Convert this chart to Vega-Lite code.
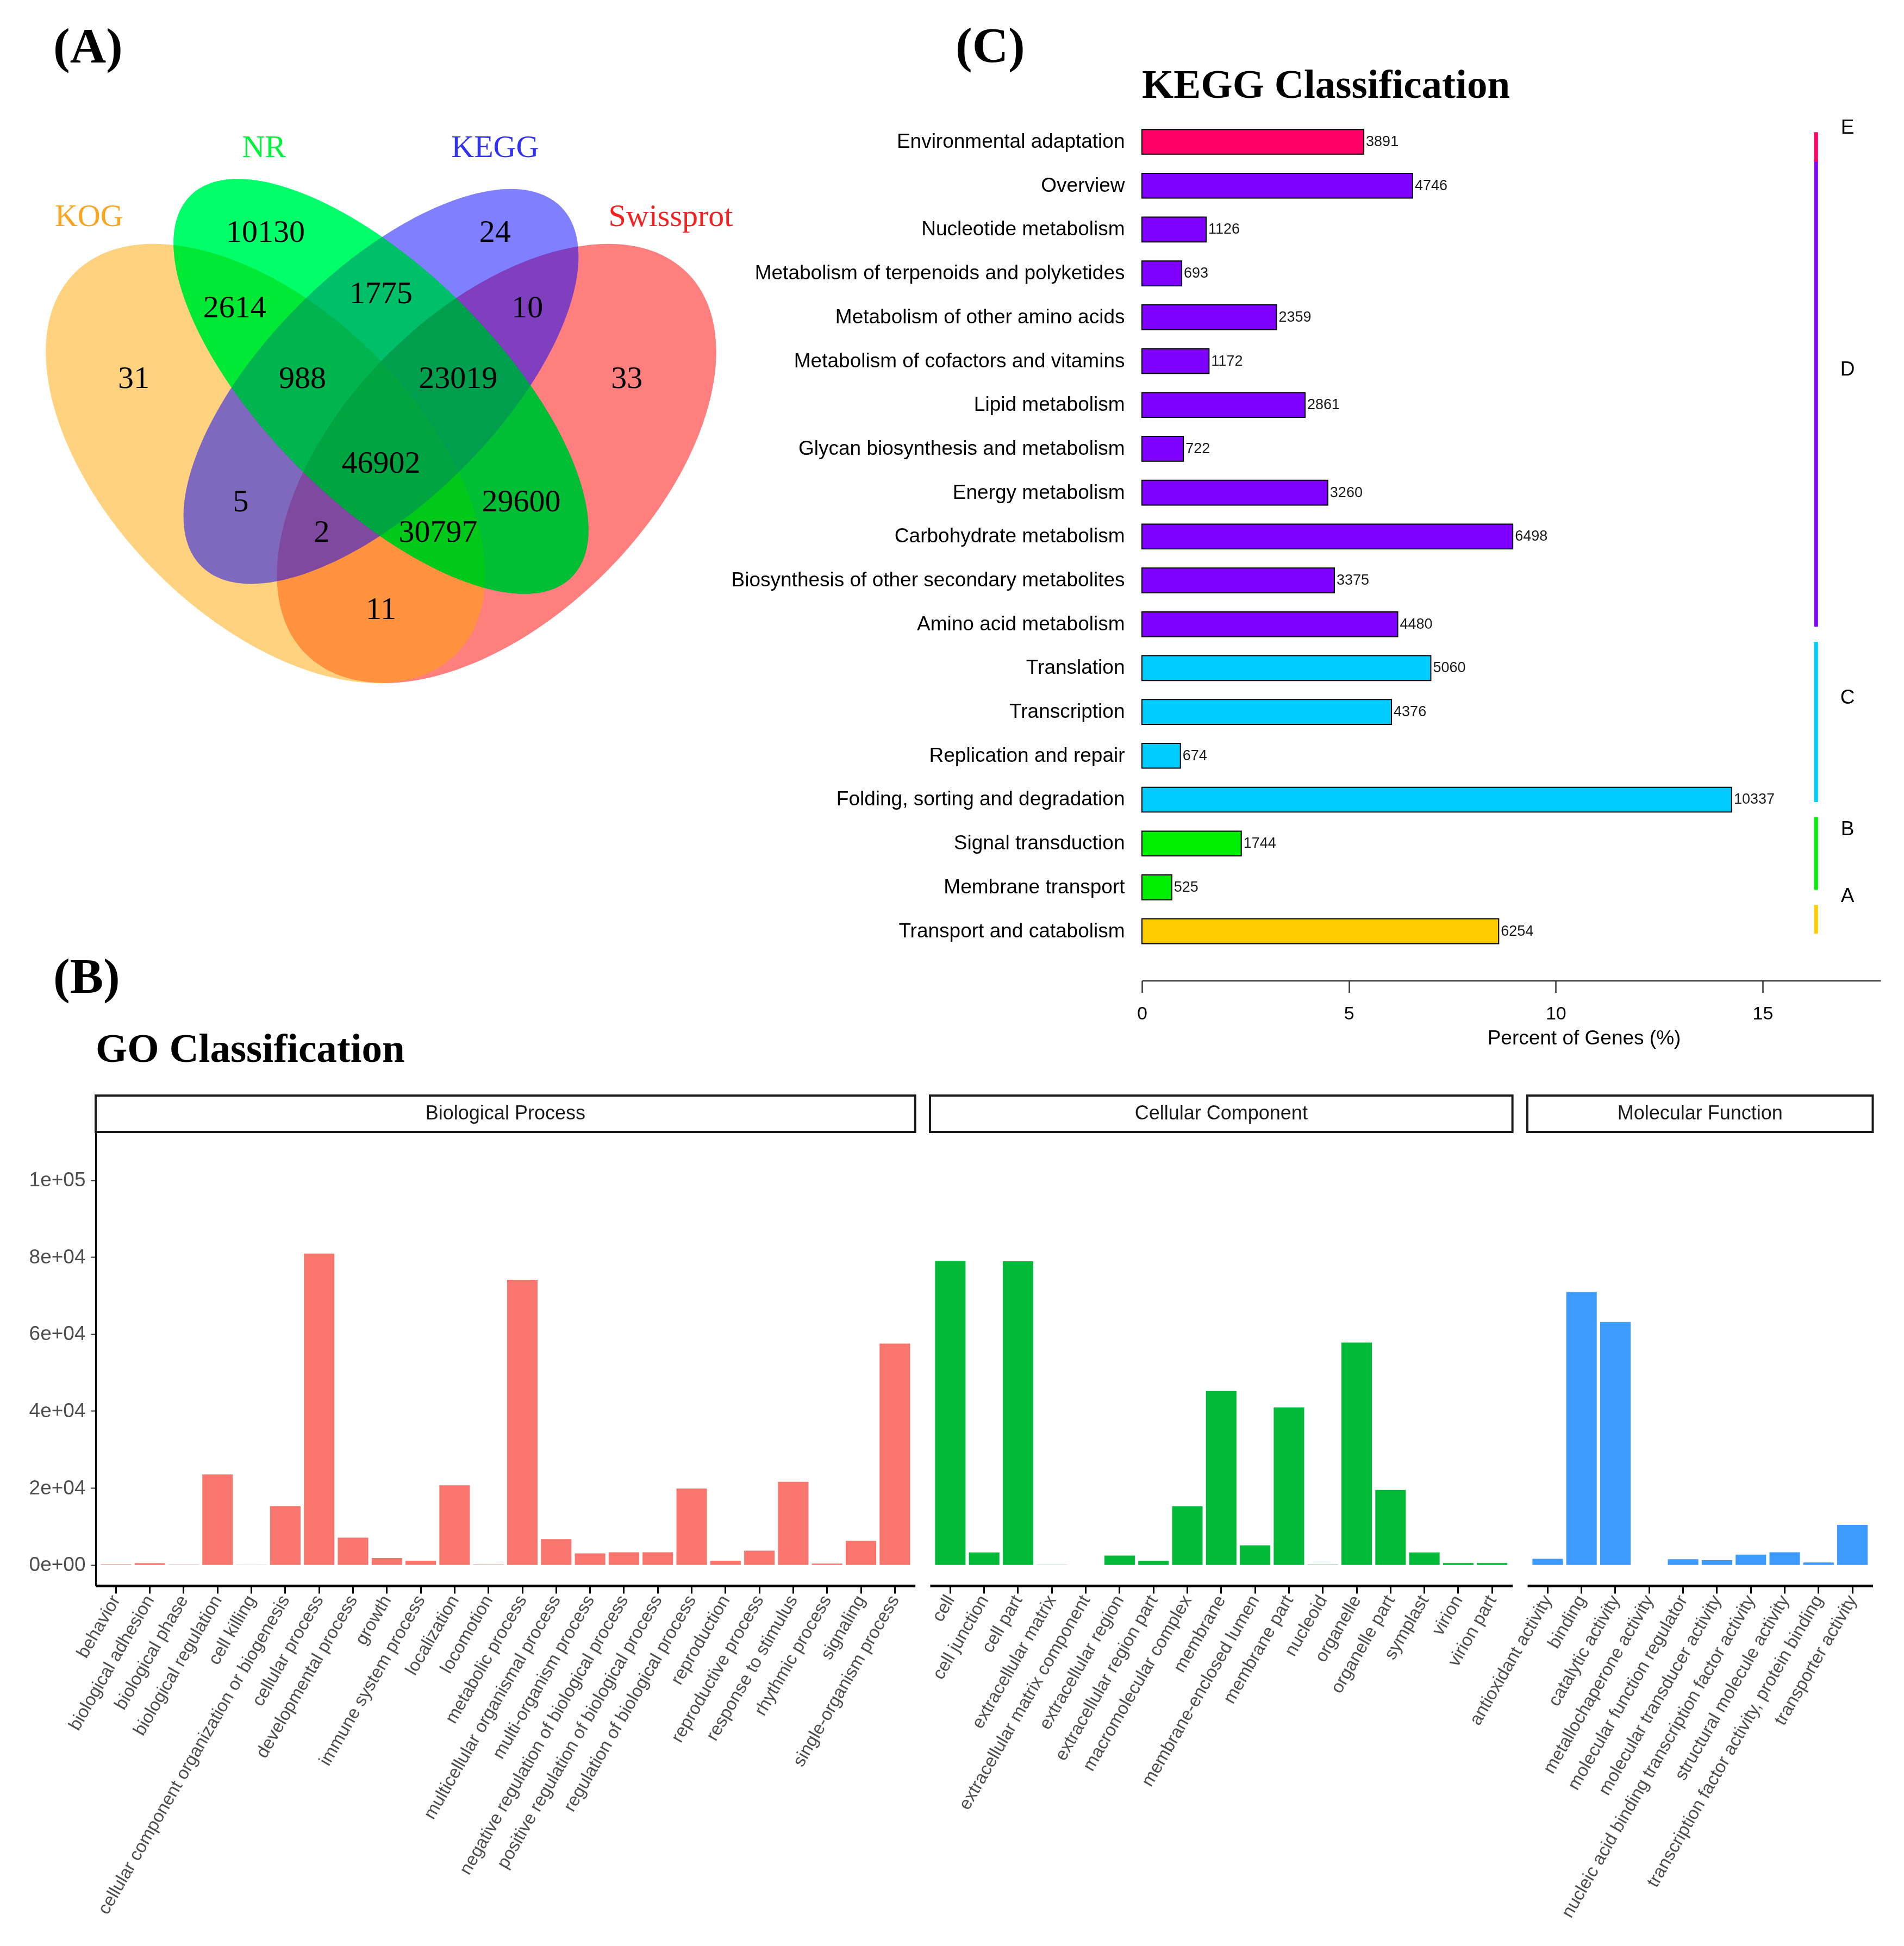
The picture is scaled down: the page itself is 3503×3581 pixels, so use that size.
{
  "$schema": "https://vega.github.io/schema/vega-lite/v6.json",
  "background": "white",
  "padding": {"left": 53, "top": 40, "right": 20, "bottom": 20},
  "spacing": -176,
  "config": {
    "view": {"stroke": null},
    "axis": {"grid": false, "labelFont": "Liberation Sans", "titleFont": "Liberation Sans"},
    "title": {"font": "Liberation Serif", "fontWeight": "bold", "anchor": "start", "frame": "group", "color": "#000000", "baseline": "alphabetic"},
    "text": {"font": "Liberation Sans"}
  },
  "datasets": {
    "venn_sets": [
      {"set": "Swissprot", "cx": 0.65, "cy": 0.47},
      {"set": "KOG", "cx": 0.35, "cy": 0.47},
      {"set": "KEGG", "cx": 0.5, "cy": 0.57},
      {"set": "NR", "cx": 0.5, "cy": 0.57}
    ],
    "venn_labels": [
      {"set": "KOG", "x": 0.121, "y": 0.79},
      {"set": "NR", "x": 0.348, "y": 0.88},
      {"set": "KEGG", "x": 0.648, "y": 0.88},
      {"set": "Swissprot", "x": 0.876, "y": 0.79}
    ],
    "venn_counts": [
      {"count": 10130, "x": 0.35, "y": 0.77},
      {"count": 24, "x": 0.648, "y": 0.77},
      {"count": 2614, "x": 0.31, "y": 0.672},
      {"count": 1775, "x": 0.5, "y": 0.69},
      {"count": 10, "x": 0.69, "y": 0.672},
      {"count": 31, "x": 0.179, "y": 0.58},
      {"count": 988, "x": 0.398, "y": 0.58},
      {"count": 23019, "x": 0.6, "y": 0.58},
      {"count": 33, "x": 0.819, "y": 0.58},
      {"count": 46902, "x": 0.5, "y": 0.47},
      {"count": 5, "x": 0.318, "y": 0.42},
      {"count": 29600, "x": 0.682, "y": 0.42},
      {"count": 2, "x": 0.423, "y": 0.38},
      {"count": 30797, "x": 0.574, "y": 0.38},
      {"count": 11, "x": 0.5, "y": 0.28}
    ],
    "kegg": [
      {"pathway": "Environmental adaptation", "class": "E", "count": 3891, "percent": 5.36},
      {"pathway": "Overview", "class": "D", "count": 4746, "percent": 6.54},
      {"pathway": "Nucleotide metabolism", "class": "D", "count": 1126, "percent": 1.55},
      {"pathway": "Metabolism of terpenoids and polyketides", "class": "D", "count": 693, "percent": 0.96},
      {"pathway": "Metabolism of other amino acids", "class": "D", "count": 2359, "percent": 3.25},
      {"pathway": "Metabolism of cofactors and vitamins", "class": "D", "count": 1172, "percent": 1.62},
      {"pathway": "Lipid metabolism", "class": "D", "count": 2861, "percent": 3.94},
      {"pathway": "Glycan biosynthesis and metabolism", "class": "D", "count": 722, "percent": 1.0},
      {"pathway": "Energy metabolism", "class": "D", "count": 3260, "percent": 4.49},
      {"pathway": "Carbohydrate metabolism", "class": "D", "count": 6498, "percent": 8.96},
      {"pathway": "Biosynthesis of other secondary metabolites", "class": "D", "count": 3375, "percent": 4.65},
      {"pathway": "Amino acid metabolism", "class": "D", "count": 4480, "percent": 6.18},
      {"pathway": "Translation", "class": "C", "count": 5060, "percent": 6.98},
      {"pathway": "Transcription", "class": "C", "count": 4376, "percent": 6.03},
      {"pathway": "Replication and repair", "class": "C", "count": 674, "percent": 0.93},
      {"pathway": "Folding, sorting and degradation", "class": "C", "count": 10337, "percent": 14.25},
      {"pathway": "Signal transduction", "class": "B", "count": 1744, "percent": 2.4},
      {"pathway": "Membrane transport", "class": "B", "count": 525, "percent": 0.72},
      {"pathway": "Transport and catabolism", "class": "A", "count": 6254, "percent": 8.62}
    ],
    "kegg_classes": [
      {"class": "E", "pathway": "Environmental adaptation", "end": "Environmental adaptation"},
      {"class": "D", "pathway": "Overview", "end": "Amino acid metabolism"},
      {"class": "C", "pathway": "Translation", "end": "Folding, sorting and degradation"},
      {"class": "B", "pathway": "Signal transduction", "end": "Membrane transport"},
      {"class": "A", "pathway": "Transport and catabolism", "end": "Transport and catabolism"}
    ],
    "kegg_letters": [
      {"class": "E", "pathway": "Environmental adaptation"},
      {"class": "D", "pathway": "Metabolism of cofactors and vitamins"},
      {"class": "C", "pathway": "Transcription"},
      {"class": "B", "pathway": "Signal transduction"},
      {"class": "A", "pathway": "Membrane transport"}
    ],
    "ontologies": [
      {"ontology": "Biological Process"},
      {"ontology": "Cellular Component"},
      {"ontology": "Molecular Function"}
    ],
    "go": [
      {"ontology": "Biological Process", "term": "behavior", "genes": 150},
      {"ontology": "Biological Process", "term": "biological adhesion", "genes": 450},
      {"ontology": "Biological Process", "term": "biological phase", "genes": 60},
      {"ontology": "Biological Process", "term": "biological regulation", "genes": 23500},
      {"ontology": "Biological Process", "term": "cell killing", "genes": 40},
      {"ontology": "Biological Process", "term": "cellular component organization or biogenesis", "genes": 15300},
      {"ontology": "Biological Process", "term": "cellular process", "genes": 80900},
      {"ontology": "Biological Process", "term": "developmental process", "genes": 7100},
      {"ontology": "Biological Process", "term": "growth", "genes": 1800},
      {"ontology": "Biological Process", "term": "immune system process", "genes": 1100},
      {"ontology": "Biological Process", "term": "localization", "genes": 20700},
      {"ontology": "Biological Process", "term": "locomotion", "genes": 120},
      {"ontology": "Biological Process", "term": "metabolic process", "genes": 74100},
      {"ontology": "Biological Process", "term": "multicellular organismal process", "genes": 6700},
      {"ontology": "Biological Process", "term": "multi-organism process", "genes": 3000},
      {"ontology": "Biological Process", "term": "negative regulation of biological process", "genes": 3300},
      {"ontology": "Biological Process", "term": "positive regulation of biological process", "genes": 3300},
      {"ontology": "Biological Process", "term": "regulation of biological process", "genes": 19850},
      {"ontology": "Biological Process", "term": "reproduction", "genes": 1100},
      {"ontology": "Biological Process", "term": "reproductive process", "genes": 3700},
      {"ontology": "Biological Process", "term": "response to stimulus", "genes": 21600},
      {"ontology": "Biological Process", "term": "rhythmic process", "genes": 350},
      {"ontology": "Biological Process", "term": "signaling", "genes": 6250},
      {"ontology": "Biological Process", "term": "single-organism process", "genes": 57500},
      {"ontology": "Cellular Component", "term": "cell", "genes": 79000},
      {"ontology": "Cellular Component", "term": "cell junction", "genes": 3250},
      {"ontology": "Cellular Component", "term": "cell part", "genes": 78900},
      {"ontology": "Cellular Component", "term": "extracellular matrix", "genes": 30},
      {"ontology": "Cellular Component", "term": "extracellular matrix component", "genes": 15},
      {"ontology": "Cellular Component", "term": "extracellular region", "genes": 2450},
      {"ontology": "Cellular Component", "term": "extracellular region part", "genes": 1050},
      {"ontology": "Cellular Component", "term": "macromolecular complex", "genes": 15200},
      {"ontology": "Cellular Component", "term": "membrane", "genes": 45200},
      {"ontology": "Cellular Component", "term": "membrane-enclosed lumen", "genes": 5100},
      {"ontology": "Cellular Component", "term": "membrane part", "genes": 40900},
      {"ontology": "Cellular Component", "term": "nucleoid", "genes": 70},
      {"ontology": "Cellular Component", "term": "organelle", "genes": 57800},
      {"ontology": "Cellular Component", "term": "organelle part", "genes": 19500},
      {"ontology": "Cellular Component", "term": "symplast", "genes": 3250},
      {"ontology": "Cellular Component", "term": "virion", "genes": 500},
      {"ontology": "Cellular Component", "term": "virion part", "genes": 500},
      {"ontology": "Molecular Function", "term": "antioxidant activity", "genes": 1600},
      {"ontology": "Molecular Function", "term": "binding", "genes": 70900},
      {"ontology": "Molecular Function", "term": "catalytic activity", "genes": 63100},
      {"ontology": "Molecular Function", "term": "metallochaperone activity", "genes": 15},
      {"ontology": "Molecular Function", "term": "molecular function regulator", "genes": 1500},
      {"ontology": "Molecular Function", "term": "molecular transducer activity", "genes": 1250},
      {"ontology": "Molecular Function", "term": "nucleic acid binding transcription factor activity", "genes": 2700},
      {"ontology": "Molecular Function", "term": "structural molecule activity", "genes": 3300},
      {"ontology": "Molecular Function", "term": "transcription factor activity, protein binding", "genes": 650},
      {"ontology": "Molecular Function", "term": "transporter activity", "genes": 10400}
    ]
  },
  "vconcat": [
    {
      "bounds": "flush",
      "spacing": 776,
      "hconcat": [
        {
          "title": {"text": "(A)", "fontSize": 92, "dx": -78, "offset": 80},
          "width": 1148.7,
          "height": 1092.4,
          "layer": [
            {
              "data": {"name": "venn_sets"},
              "transform": [{"filter": "datum.set === 'Swissprot'"}],
              "mark": {"type": "point", "shape": "M0.7071,-0.7071C0.9303,-0.4839,0.7946,0.0136,0.4041,0.4041C0.0136,0.7946,-0.4839,0.9303,-0.7071,0.7071C-0.9303,0.4839,-0.7946,-0.0136,-0.4041,-0.4041C-0.0136,-0.7946,0.4839,-0.9303,0.7071,-0.7071Z", "size": 984461, "filled": true, "color": "#FF0000", "opacity": 0.5, "strokeWidth": 0},
              "encoding": {
                "x": {"field": "cx", "type": "quantitative", "scale": {"domain": [0.1296, 0.94], "nice": false, "zero": false}, "axis": null},
                "y": {"field": "cy", "type": "quantitative", "scale": {"domain": [0.15, 0.9207], "nice": false, "zero": false}, "axis": null}
              }
            },
            {
              "data": {"name": "venn_sets"},
              "transform": [{"filter": "datum.set === 'KOG'"}],
              "mark": {"type": "point", "shape": "M0.7071,0.7071C0.4839,0.9303,-0.0136,0.7946,-0.4041,0.4041C-0.7946,0.0136,-0.9303,-0.4839,-0.7071,-0.7071C-0.4839,-0.9303,0.0136,-0.7946,0.4041,-0.4041C0.7946,-0.0136,0.9303,0.4839,0.7071,0.7071Z", "size": 984461, "filled": true, "color": "#FFA500", "opacity": 0.5, "strokeWidth": 0},
              "encoding": {
                "x": {"field": "cx", "type": "quantitative"},
                "y": {"field": "cy", "type": "quantitative"}
              }
            },
            {
              "data": {"name": "venn_sets"},
              "transform": [{"filter": "datum.set === 'KEGG'"}],
              "mark": {"type": "point", "shape": "M0.6667,-0.6667C0.8341,-0.4993,0.6713,-0.0651,0.3031,0.3031C-0.0651,0.6713,-0.4993,0.8341,-0.6667,0.6667C-0.8341,0.4993,-0.6713,0.0651,-0.3031,-0.3031C0.0651,-0.6713,0.4993,-0.8341,0.6667,-0.6667Z", "size": 984461, "filled": true, "color": "#0000FF", "opacity": 0.5, "strokeWidth": 0},
              "encoding": {
                "x": {"field": "cx", "type": "quantitative"},
                "y": {"field": "cy", "type": "quantitative"}
              }
            },
            {
              "data": {"name": "venn_sets"},
              "transform": [{"filter": "datum.set === 'NR'"}],
              "mark": {"type": "point", "shape": "M0.7071,0.7071C0.5397,0.8745,0.0874,0.6936,-0.3031,0.3031C-0.6936,-0.0874,-0.8745,-0.5397,-0.7071,-0.7071C-0.5397,-0.8745,-0.0874,-0.6936,0.3031,-0.3031C0.6936,0.0874,0.8745,0.5397,0.7071,0.7071Z", "size": 984461, "filled": true, "color": "#00FF00", "opacity": 0.5, "strokeWidth": 0},
              "encoding": {
                "x": {"field": "cx", "type": "quantitative"},
                "y": {"field": "cy", "type": "quantitative"}
              }
            },
            {
              "data": {"name": "venn_sets"},
              "transform": [{"filter": "datum.set === 'NR'"}],
              "mark": {"type": "point", "shape": "M0.7071,0.7071C0.5397,0.8745,0.0874,0.6936,-0.3031,0.3031C-0.6936,-0.0874,-0.8745,-0.5397,-0.7071,-0.7071C-0.5397,-0.8745,-0.0874,-0.6936,0.3031,-0.3031C0.6936,0.0874,0.8745,0.5397,0.7071,0.7071Z", "size": 984461, "filled": true, "color": "#00FFD2", "opacity": 1, "strokeWidth": 0, "blend": "multiply"},
              "encoding": {
                "x": {"field": "cx", "type": "quantitative"},
                "y": {"field": "cy", "type": "quantitative"}
              }
            },
            {
              "data": {"name": "venn_counts"},
              "mark": {"type": "text", "font": "Liberation Serif", "fontSize": 58, "color": "#000000", "baseline": "middle"},
              "encoding": {
                "x": {"field": "x", "type": "quantitative"},
                "y": {"field": "y", "type": "quantitative"},
                "text": {"field": "count", "type": "quantitative", "format": "d"}
              }
            },
            {
              "data": {"name": "venn_labels"},
              "mark": {"type": "text", "font": "Liberation Serif", "fontSize": 58, "baseline": "middle"},
              "encoding": {
                "x": {"field": "x", "type": "quantitative"},
                "y": {"field": "y", "type": "quantitative"},
                "text": {"field": "set"},
                "fill": {"field": "set", "type": "nominal", "scale": {"domain": ["KOG", "NR", "KEGG", "Swissprot"], "range": ["#FBA420", "#00F23C", "#3232F2", "#F52222"]}, "legend": null}
              }
            }
          ]
        },
        {
          "title": {"text": "(C)", "fontSize": 92, "dx": -343, "offset": -13},
          "bounds": "flush",
          "vconcat": [
            {
              "title": {"text": "KEGG Classification", "fontSize": 75, "offset": 18},
              "width": 1359,
              "height": 1546.6,
              "layer": [
                {
                  "data": {"name": "kegg"},
                  "mark": {"type": "bar", "stroke": "#000000", "strokeWidth": 2},
                  "encoding": {
                    "y": {"field": "pathway", "type": "nominal", "sort": null, "scale": {"paddingInner": 0.435, "paddingOuter": 0.3}, "axis": {"title": null, "domain": false, "ticks": false, "labelPadding": 32, "labelFontSize": 37, "labelColor": "#000000", "labelLimit": 1000}},
                    "x": {"field": "percent", "type": "quantitative", "scale": {"domain": [0, 17.85], "nice": false}, "axis": {"values": [0, 5, 10, 15], "format": "d", "title": "Percent of Genes (%)", "offset": 44, "domainColor": "#333333", "domainWidth": 2.5, "tickColor": "#333333", "tickWidth": 2.5, "tickSize": 22, "labelFontSize": 34, "labelColor": "#000000", "labelPadding": 22, "labelFlush": false, "titleFontSize": 37, "titleFontWeight": "normal", "titleColor": "#000000", "titlePadding": 10, "titleX": 813}},
                    "color": {"field": "class", "type": "nominal", "scale": {"domain": ["E", "D", "C", "B", "A"], "range": ["#FF0066", "#7F00FF", "#00CCFF", "#00EE00", "#FFCC00"]}, "legend": null}
                  }
                },
                {
                  "data": {"name": "kegg"},
                  "mark": {"type": "text", "align": "left", "baseline": "middle", "dx": 4, "fontSize": 27, "color": "#1a1a1a"},
                  "encoding": {
                    "y": {"field": "pathway", "type": "nominal", "sort": null},
                    "x": {"field": "percent", "type": "quantitative"},
                    "text": {"field": "count", "type": "quantitative", "format": "d"}
                  }
                },
                {
                  "data": {"name": "kegg_classes"},
                  "transform": [{"filter": "datum.class !== 'E'"}],
                  "mark": {"type": "rule", "strokeWidth": 7},
                  "encoding": {
                    "x": {"datum": 16.29},
                    "y": {"field": "pathway", "type": "nominal", "sort": null, "bandPosition": -0.56},
                    "y2": {"field": "end", "bandPosition": 0.6},
                    "color": {"field": "class", "type": "nominal"}
                  }
                },
                {
                  "data": {"name": "kegg_classes"},
                  "transform": [{"filter": "datum.class === 'E'"}],
                  "mark": {"type": "rule", "strokeWidth": 7},
                  "encoding": {
                    "x": {"datum": 16.29},
                    "y": {"field": "pathway", "type": "nominal", "sort": null, "bandPosition": 0.11},
                    "y2": {"field": "end", "bandPosition": 1.3},
                    "color": {"field": "class", "type": "nominal"}
                  }
                },
                {
                  "data": {"name": "kegg_letters"},
                  "transform": [{"filter": "datum.class === 'E' || datum.class === 'C' || datum.class === 'B'"}],
                  "mark": {"type": "text", "fontSize": 37, "color": "#000000", "baseline": "middle"},
                  "encoding": {
                    "x": {"datum": 17.05},
                    "y": {"field": "pathway", "type": "nominal", "sort": null, "bandPosition": -0.08},
                    "text": {"field": "class"}
                  }
                },
                {
                  "data": {"name": "kegg_letters"},
                  "transform": [{"filter": "datum.class === 'D' || datum.class === 'A'"}],
                  "mark": {"type": "text", "fontSize": 37, "color": "#000000", "baseline": "middle"},
                  "encoding": {
                    "x": {"datum": 17.05},
                    "y": {"field": "pathway", "type": "nominal", "sort": null, "bandPosition": 0.85},
                    "text": {"field": "class"}
                  }
                }
              ]
            }
          ]
        }
      ]
    },
    {
      "title": {"text": "(B)", "fontSize": 92, "dx": -78, "offset": 48},
      "bounds": "flush",
      "vconcat": [
        {
          "title": {"text": "GO Classification", "fontSize": 75, "offset": 44},
          "bounds": "flush",
          "spacing": 27,
          "hconcat": [
            {
              "width": 1507.7,
              "height": 902,
              "layer": [
                {
                  "data": {"name": "go"},
                  "transform": [{"filter": "datum.ontology === 'Biological Process'"}],
                  "mark": {"type": "bar", "color": "#F8766D"},
                  "encoding": {
                    "x": {"field": "term", "type": "nominal", "sort": null, "scale": {"paddingInner": 0.1, "paddingOuter": 0.15}, "axis": {"title": null, "labelAngle": -60, "labelAlign": "right", "labelBaseline": "middle", "labelFontSize": 33, "labelColor": "#4d4d4d", "domainColor": "#000000", "domainWidth": 5, "tickColor": "#000000", "tickWidth": 3, "tickSize": 14, "labelPadding": 6, "labelLimit": 1200}},
                    "y": {"field": "genes", "type": "quantitative", "scale": {"domain": [-5400, 121960], "nice": false, "zero": false}, "axis": {"values": [0, 20000, 40000, 60000, 80000, 100000], "labelExpr": "replace(format(datum.value, '.0e'), 'e+', 'e+0')", "title": null, "domainColor": "#000000", "domainWidth": 3, "tickColor": "#333333", "tickWidth": 2, "tickSize": 9, "labelFontSize": 37, "labelColor": "#4d4d4d", "labelPadding": 10}},
                    "y2": {"datum": 0}
                  }
                },
                {
                  "data": {"name": "ontologies"},
                  "transform": [{"filter": "datum.ontology === 'Biological Process'"}],
                  "mark": {"type": "rect", "fill": "#ffffff", "stroke": "#1a1a1a", "strokeWidth": 4},
                  "encoding": {"y": {"datum": 112500}, "y2": {"datum": 121960}}
                },
                {
                  "data": {"name": "ontologies"},
                  "transform": [{"filter": "datum.ontology === 'Biological Process'"}],
                  "mark": {"type": "text", "fontSize": 36, "color": "#1a1a1a", "baseline": "middle"},
                  "encoding": {"y": {"datum": 117230}, "text": {"field": "ontology"}}
                }
              ]
            },
            {
              "width": 1071.6,
              "height": 902,
              "layer": [
                {
                  "data": {"name": "go"},
                  "transform": [{"filter": "datum.ontology === 'Cellular Component'"}],
                  "mark": {"type": "bar", "color": "#00BA38"},
                  "encoding": {
                    "x": {"field": "term", "type": "nominal", "sort": null, "scale": {"paddingInner": 0.1, "paddingOuter": 0.15}, "axis": {"title": null, "labelAngle": -60, "labelAlign": "right", "labelBaseline": "middle", "labelFontSize": 33, "labelColor": "#4d4d4d", "domainColor": "#000000", "domainWidth": 5, "tickColor": "#000000", "tickWidth": 3, "tickSize": 14, "labelPadding": 6, "labelLimit": 1200}},
                    "y": {"field": "genes", "type": "quantitative", "scale": {"domain": [-5400, 121960], "nice": false, "zero": false}, "axis": null},
                    "y2": {"datum": 0}
                  }
                },
                {
                  "data": {"name": "ontologies"},
                  "transform": [{"filter": "datum.ontology === 'Cellular Component'"}],
                  "mark": {"type": "rect", "fill": "#ffffff", "stroke": "#1a1a1a", "strokeWidth": 4},
                  "encoding": {"y": {"datum": 112500}, "y2": {"datum": 121960}}
                },
                {
                  "data": {"name": "ontologies"},
                  "transform": [{"filter": "datum.ontology === 'Cellular Component'"}],
                  "mark": {"type": "text", "fontSize": 36, "color": "#1a1a1a", "baseline": "middle"},
                  "encoding": {"y": {"datum": 117230}, "text": {"field": "ontology"}}
                }
              ]
            },
            {
              "width": 635.5,
              "height": 902,
              "layer": [
                {
                  "data": {"name": "go"},
                  "transform": [{"filter": "datum.ontology === 'Molecular Function'"}],
                  "mark": {"type": "bar", "color": "#3D9BFF"},
                  "encoding": {
                    "x": {"field": "term", "type": "nominal", "sort": null, "scale": {"paddingInner": 0.1, "paddingOuter": 0.15}, "axis": {"title": null, "labelAngle": -60, "labelAlign": "right", "labelBaseline": "middle", "labelFontSize": 33, "labelColor": "#4d4d4d", "domainColor": "#000000", "domainWidth": 5, "tickColor": "#000000", "tickWidth": 3, "tickSize": 14, "labelPadding": 6, "labelLimit": 1200}},
                    "y": {"field": "genes", "type": "quantitative", "scale": {"domain": [-5400, 121960], "nice": false, "zero": false}, "axis": null},
                    "y2": {"datum": 0}
                  }
                },
                {
                  "data": {"name": "ontologies"},
                  "transform": [{"filter": "datum.ontology === 'Molecular Function'"}],
                  "mark": {"type": "rect", "fill": "#ffffff", "stroke": "#1a1a1a", "strokeWidth": 4},
                  "encoding": {"y": {"datum": 112500}, "y2": {"datum": 121960}}
                },
                {
                  "data": {"name": "ontologies"},
                  "transform": [{"filter": "datum.ontology === 'Molecular Function'"}],
                  "mark": {"type": "text", "fontSize": 36, "color": "#1a1a1a", "baseline": "middle"},
                  "encoding": {"y": {"datum": 117230}, "text": {"field": "ontology"}}
                }
              ]
            }
          ]
        }
      ]
    }
  ]
}
